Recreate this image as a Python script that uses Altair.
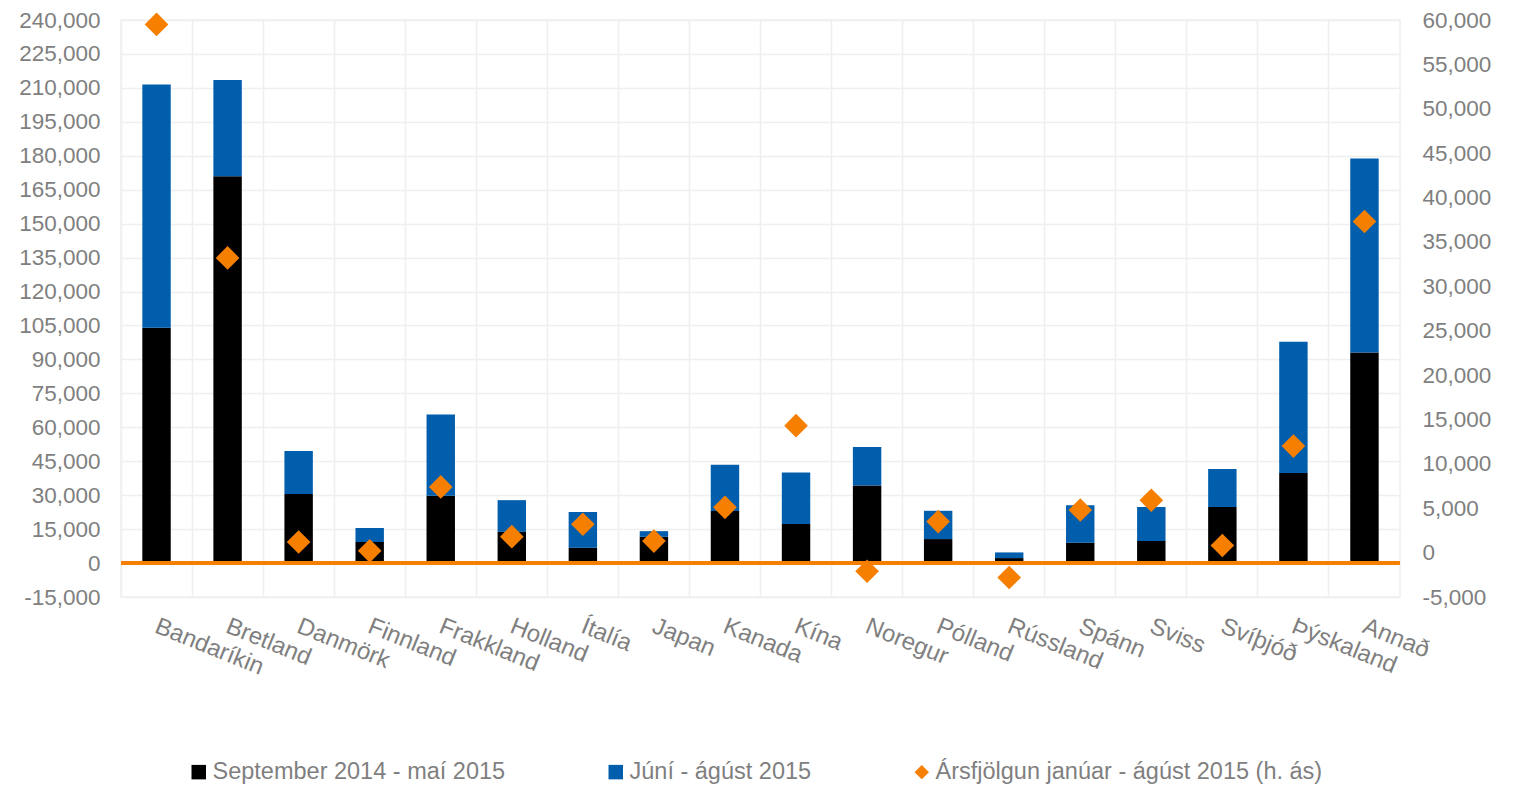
import altair as alt
import pandas as pd

# ---- data ----
categories = ["Bandaríkin", "Bretland", "Danmörk", "Finnland", "Frakkland", "Holland",
              "Ítalía", "Japan", "Kanada", "Kína", "Noregur", "Pólland", "Rússland",
              "Spánn", "Sviss", "Svíþjóð", "Þýskaland", "Annað"]
sept_may = [104000, 171000, 30500, 9300, 29700, 13800, 6800, 11600, 23000, 17300,
            34300, 10600, 2200, 9000, 9800, 24800, 39800, 93100]
june_aug = [107500, 42500, 19000, 6200, 35900, 14000, 15800, 2500, 20500, 22700,
            17000, 12500, 2500, 16500, 15000, 16800, 58000, 85700]
growth = [59500, 33200, 1200, 200, 7400, 1800, 3200, 1300, 5100, 14300,
          -2100, 3500, -2800, 4800, 5900, 800, 12000, 37300]
series_names = ["September 2014 - maí 2015", "Júní - ágúst 2015",
                "Ársfjölgun janúar - ágúst 2015 (h. ás)"]
left_ticks = list(range(-15000, 240001, 15000))
right_ticks = list(range(-5000, 60001, 5000))

FONT = "Liberation Sans"
GREY = "#7F7F7F"
GRID = "#EFEFEF"
BLACK = "#000000"
BLUE = "#005EAD"
ORANGE = "#F77F00"
HYPHEN_EXPR = "replace(datum.label, '\u2212', '-')"

s1, s2, s3 = series_names
n = len(categories)
bars_df = pd.DataFrame({
    "land": categories * 2,
    "value": sept_may + june_aug,
    "series": [s1] * n + [s2] * n,
    "ord": [0] * n + [1] * n,
})
pts_df = pd.DataFrame({"land": categories, "growth": growth, "series": [s3] * n})

left_scale = alt.Scale(domain=[-15000, 240000], nice=False, zero=False)
right_scale = alt.Scale(domain=[-5000, 60000], nice=False, zero=False)
color_scale = alt.Scale(domain=series_names, range=[BLACK, BLUE, ORANGE])
shape_scale = alt.Scale(domain=series_names, range=["square", "square", "diamond"])

legend = alt.Legend(title=None, orient="none", legendX=66, legendY=740,
                    direction="horizontal", labelFontSize=23.5, labelColor=GREY,
                    labelFont=FONT, symbolSize=210, symbolStrokeWidth=0,
                    labelOffset=2, columnPadding=98, padding=0, labelLimit=0)

x = alt.X("land:N", sort=categories, title=None,
          scale=alt.Scale(paddingInner=0, paddingOuter=0),
          axis=alt.Axis(bandPosition=0, labelAngle=22, labelOffset=4,
                        labelAlign="left", labelBaseline="top", labelPadding=17,
                        ticks=False, domain=False, grid=True, gridColor=GRID,
                        gridWidth=1.5, labelOverlap=False, labelFontSize=24,
                        labelColor=GREY, labelFont=FONT))

left_axis = alt.Axis(orient="left", values=left_ticks, format=",.0f", grid=True,
                     gridColor=GRID, gridWidth=1.5, ticks=False, domain=False,
                     labelOverlap=False, labelExpr=HYPHEN_EXPR,
                     labelPadding=21, labelFontSize=22.5, labelColor=GREY, labelFont=FONT)
right_axis = alt.Axis(orient="right", values=right_ticks, format=",.0f", grid=False,
                      ticks=False, domain=False, labelOverlap=False,
                      labelExpr=HYPHEN_EXPR, labelPadding=22,
                      labelFontSize=22.5, labelColor=GREY, labelFont=FONT)

bars = alt.Chart(bars_df).mark_bar(width=alt.RelativeBandSize(band=0.4)).encode(
    x=x,
    y=alt.Y("value:Q", stack="zero", scale=left_scale, title=None, axis=left_axis),
    color=alt.Color("series:N", scale=color_scale, legend=legend),
    order=alt.Order("ord:Q", sort="ascending"),
)

rule = alt.Chart(bars_df).mark_rule(color=ORANGE, strokeWidth=4).encode(
    y=alt.YDatum(0, type="quantitative", scale=left_scale, title=None, axis=left_axis)
)

pts = alt.Chart(pts_df).mark_point(filled=True, size=560, opacity=1).encode(
    x=x,
    y=alt.Y("growth:Q", scale=right_scale, title=None, axis=right_axis),
    color=alt.Color("series:N", scale=color_scale, legend=legend),
    shape=alt.Shape("series:N", scale=shape_scale, legend=legend),
)

left = alt.layer(bars, rule)
chart = alt.layer(left, pts).resolve_scale(y="independent").properties(
    width=1279, height=577,
    padding={"left": 113, "top": 12, "right": 105, "bottom": 187},
    autosize=alt.AutoSizeParams(type="none"),
    background="white",
).configure_view(stroke=GRID, strokeWidth=1.5).configure_axis(
    labelFont=FONT, labelOverlap=False
).configure_legend(labelFont=FONT)

chart.save("out.html", embed_options={"renderer": "svg", "actions": False})
